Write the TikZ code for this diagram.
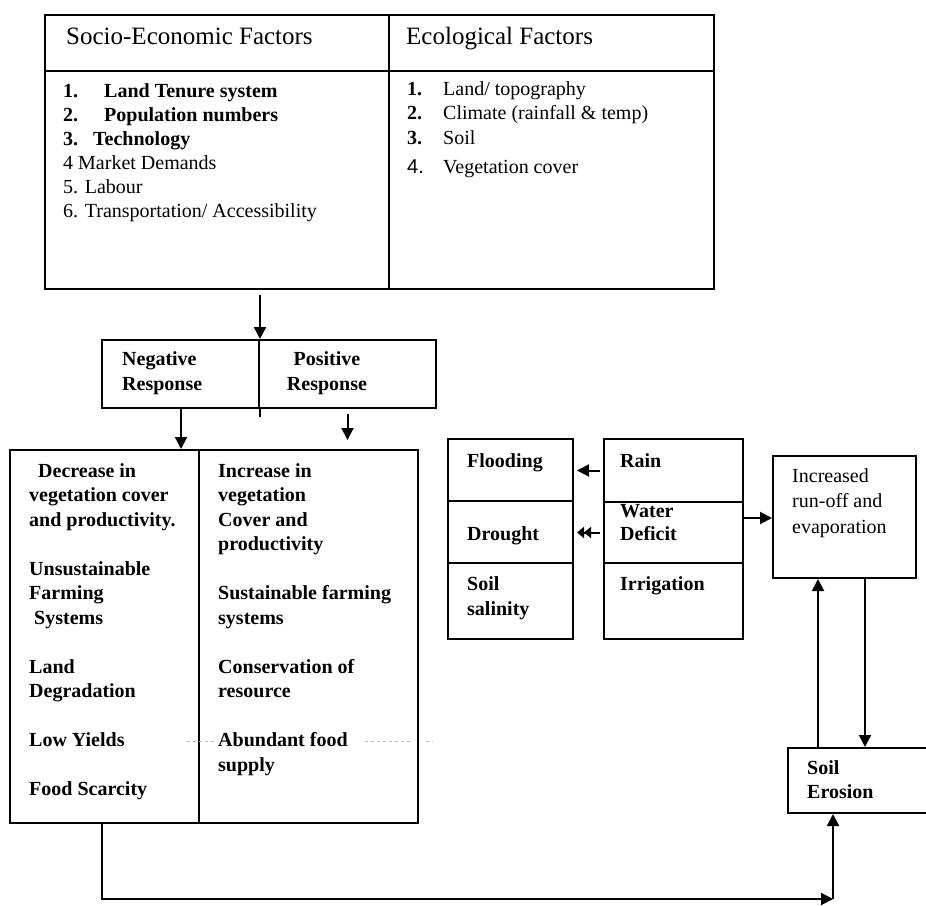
\documentclass[tikz,border=0pt]{standalone}
\usepackage{fontspec}
\setmainfont{Liberation Serif}
\newfontfamily\arialfont{Liberation Sans}
\usetikzlibrary{arrows.meta,calc}
\begin{document}
\begin{tikzpicture}[x=1pt,y=-1pt,
  box/.style={draw, line width=2pt, rectangle, inner sep=0pt, anchor=north west},
  txt/.style={inner sep=0pt, anchor=north west, align=left, font=\fontsize{20}{24.5}\selectfont},
  btxt/.style={txt, font=\fontsize{20}{24.5}\selectfont\bfseries},
  arr/.style={line width=2pt, -{Triangle[length=12pt,width=12pt]}},
  arrd/.style={line width=2pt, -{Triangle[length=7pt,width=11pt]Triangle[length=7pt,width=11pt]}},
  conn/.style={line width=2pt},
  ghost/.style={gray!55, dashed, line width=0.8pt}
]
\useasboundingbox (0,0) rectangle (926,905);
\clip (0,0) rectangle (926,905);

% boxes
\node[box, minimum width=344pt, minimum height=56pt] (sochead) at (44,14) {};
\node[box, minimum width=325pt, minimum height=56pt] (ecohead) at (388,14) {};
\node[box, minimum width=344pt, minimum height=218pt] (socbody) at (44,70) {};
\node[box, minimum width=325pt, minimum height=218pt] (ecobody) at (388,70) {};
\node[box, minimum width=157pt, minimum height=68pt] (neg) at (101,339) {};
\node[box, minimum width=177pt, minimum height=68pt] (pos) at (258,339) {};
\node[box, minimum width=189pt, minimum height=373pt] (decl) at (9,449) {};
\node[box, minimum width=219pt, minimum height=373pt] (incr) at (198,449) {};
\node[box, minimum width=125pt, minimum height=62pt] (flood) at (447,438) {};
\node[box, minimum width=125pt, minimum height=62pt] (drought) at (447,500) {};
\node[box, minimum width=125pt, minimum height=76pt] (salin) at (447,562) {};
\node[box, minimum width=139pt, minimum height=63pt] (rain) at (603,438) {};
\node[box, minimum width=139pt, minimum height=61pt] (water) at (603,501) {};
\node[box, minimum width=139pt, minimum height=76pt] (irrig) at (603,562) {};
\node[box, minimum width=143pt, minimum height=122pt] (runoff) at (772,455) {};
\node[box, minimum width=160pt, minimum height=65pt] (erosion) at (787,747) {};

% texts
\node[txt, anchor=base west, font=\fontsize{25}{30}\selectfont] (soctitle) at (66,44) {Socio-Economic Factors};
\node[txt, anchor=base west, font=\fontsize{25}{30}\selectfont] (ecotitle) at (406,44) {Ecological Factors};

\node[txt, font=\fontsize{20}{24}\selectfont] (soclist) at (63,80.2)
 {\strut\textbf{\makebox[41pt][l]{1.}Land Tenure system}\\
  \textbf{\makebox[41pt][l]{2.}Population numbers}\\
  \textbf{\makebox[30pt][l]{3.}Technology}\\
  4 Market Demands\\
  5. Labour\\
  6. Transportation/ Accessibility};

\node[txt] (ecolist) at (407,77.85)
 {\strut\makebox[36pt][l]{\textbf{1.}}Land/ topography\\
  \makebox[36pt][l]{\textbf{2.}}Climate (rainfall \& temp)\\
  \makebox[36pt][l]{\textbf{3.}}Soil\\[4.5pt]
  \makebox[36pt][l]{\arialfont 4.}Vegetation cover};

\node[btxt, font=\fontsize{20}{25.5}\selectfont\bfseries] (negtxt) at (122,347.15) {\strut Negative\\ Response};
\node[btxt, anchor=north, align=center, font=\fontsize{20}{25.5}\selectfont\bfseries] (postxt) at (327,347.15) {\strut Positive\\ Response};

\node[btxt] (decltxt) at (29,459.85)
 {\strut\hspace*{9pt}Decrease in\\
  vegetation cover\\
  and productivity.\\[24.5pt]
  Unsustainable\\
  Farming\\
  \hspace*{5pt}Systems\\[24.5pt]
  Land\\
  Degradation\\[24.5pt]
  Low Yields\\[24.5pt]
  Food Scarcity};

\node[btxt] (incrtxt) at (218,459.85)
 {\strut Increase in\\
  vegetation\\
  Cover and\\
  productivity\\[24.5pt]
  Sustainable farming\\
  systems\\[24.5pt]
  Conservation of\\
  resource\\[24.5pt]
  Abundant food\\
  supply};

\node[btxt, anchor=base west] (floodtxt) at (467,467) {Flooding};
\node[btxt, anchor=base west] (droughttxt) at (467,540) {Drought};
\node[btxt, font=\fontsize{20}{25}\selectfont\bfseries] (salintxt) at (467,572.5) {\strut Soil\\ salinity};
\node[btxt, anchor=base west] (raintxt) at (620,467) {Rain};
\node[btxt, font=\fontsize{20}{23}\selectfont\bfseries] (watertxt) at (620,500.9) {\strut Water\\ Deficit};
\node[btxt, anchor=base west] (irrigtxt) at (620,590) {Irrigation};
\node[txt, font=\fontsize{20}{25.5}\selectfont] (runofftxt) at (792,464.15) {\strut Increased\\ run-off and\\ evaporation};
\node[btxt] (erosiontxt) at (807,756.85) {\strut Soil\\ Erosion};

% connectors
\coordinate (xn) at (181,0);
\coordinate (xl) at (818,0);
\coordinate (xr) at (865,0);
\coordinate (xb) at (102,0);
\coordinate (corner) at (833,899);

\draw[arr, shorten <=5pt] (socbody.south -| neg.north east) -- (neg.north east);
\draw[conn] (neg.south east) -- ++(0,8);
\draw[arr] (neg.south -| xn) -- (decl.north -| xn);
\draw[arr, shorten <=5pt, shorten >=9pt] (pos.south) -- (incr.north -| pos.south);

\draw[arr, shorten <=3pt, shorten >=3pt] (rain.west) -- (rain.west -| flood.east);
\draw[arrd, shorten <=3pt, shorten >=3pt] (water.west) -- (water.west -| drought.east);
\coordinate (w1) at ([yshift=14.5pt]water.east);
\draw[arr] (w1) -- (w1 -| runoff.west);

\draw[arr] (erosion.north -| xl) -- (runoff.south -| xl);
\draw[arr] (runoff.south -| xr) -- (erosion.north -| xr);

\draw[arr] (decl.south -| xb) |- (corner);
\draw[arr] (corner) -- (erosion.south -| corner);

% faint scan marks
\draw[ghost] (187,741) -- (214,741);
\draw[ghost] (365,741) -- (412,741);
\draw[ghost] (426,741) -- (433,741);
\end{tikzpicture}
\end{document}
